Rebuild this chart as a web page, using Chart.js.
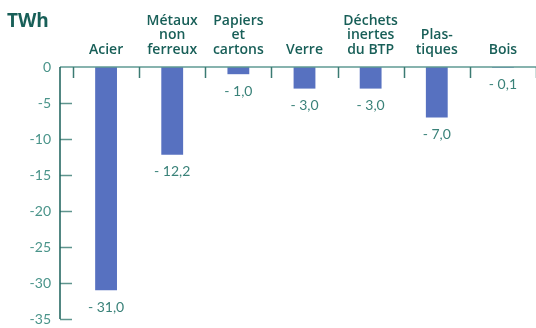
<!DOCTYPE html>
<html>
<head>
<meta charset="utf-8">
<script src="https://cdn.jsdelivr.net/npm/chart.js@4.4.1/dist/chart.umd.min.js"></script>
<style>
  html, body { margin: 0; padding: 0; background: #fff; }
  #wrap { width: 536px; height: 328px; }
</style>
</head>
<body>
<div id="wrap"><canvas id="barChart"></canvas></div>
<script>
const categories = [
    ['Acier'],
    ['Métaux', 'non', 'ferreux'],
    ['Papiers', 'et', 'cartons'],
    ['Verre'],
    ['Déchets', 'inertes', 'du BTP'],
    ['Plas-', 'tiques'],
    ['Bois']
];
const values = [-31.0, -12.2, -1.0, -3.0, -3.0, -7.0, -0.1];
const yMin = -35;
const yMax = 0;
const yStep = 5;
const unit = 'TWh';

const barColor = '#5771c0';
const darkTeal = '#185f58';
const midTeal = '#3a8279';
const tickTeal = '#4a948a';

// "- 31,0" style labels
function fmt(v) {
    return '- ' + Math.abs(v).toFixed(1).replace('.', ',');
}

// axis lines, inside tick marks, unit and value labels
const decorations = {
    id: 'decorations',
    afterDatasetsDraw(chart) {
        const {ctx, chartArea, scales: {x, y}} = chart;
        const y0 = y.getPixelForValue(0);
        const axisX = chartArea.left - 13;
        ctx.save();

        // y tick marks
        ctx.lineWidth = 1.5;
        ctx.strokeStyle = '#5f958e';
        for (let v = yMin; v < yMax; v += yStep) {
            const py = Math.round(y.getPixelForValue(v)) + 0.5;
            ctx.beginPath();
            ctx.moveTo(axisX, py);
            ctx.lineTo(axisX + 12, py);
            ctx.stroke();
        }

        // x axis at zero
        ctx.strokeStyle = '#5f9a93';
        ctx.beginPath();
        ctx.moveTo(axisX, y0);
        ctx.lineTo(chart.width, y0);
        ctx.stroke();

        // category boundary ticks
        ctx.strokeStyle = '#3b7a72';
        const cw = x.width / categories.length;
        for (let i = 0; i <= categories.length; i++) {
            const px = Math.round(x.left + i * cw) + 0.5;
            ctx.beginPath();
            ctx.moveTo(px, y0);
            ctx.lineTo(px, y0 + 11);
            ctx.stroke();
        }

        // y axis line
        ctx.strokeStyle = darkTeal;
        ctx.beginPath();
        ctx.moveTo(axisX, y0);
        ctx.lineTo(axisX, y.getPixelForValue(yMin));
        ctx.stroke();

        // unit
        ctx.fillStyle = darkTeal;
        ctx.font = 'bold 19px "Open Sans"';
        ctx.textAlign = 'left';
        ctx.textBaseline = 'alphabetic';
        ctx.fillText(unit, 7, 27);

        // value labels under the bars
        ctx.fillStyle = midTeal;
        ctx.font = '14px Lato';
        ctx.textAlign = 'center';
        ctx.textBaseline = 'middle';
        values.forEach((v, i) => {
            ctx.fillText(fmt(v), x.getPixelForValue(i), y.getPixelForValue(v) + 17);
        });
        ctx.restore();
    }
};

const ctxBar = document.getElementById('barChart').getContext('2d');
const barChart = new Chart(ctxBar, {
    type: 'bar',
    data: {
        labels: categories,
        datasets: [{
            data: values,
            backgroundColor: barColor,
            barPercentage: 0.33,
            categoryPercentage: 1
        }]
    },
    options: {
        responsive: true,
        maintainAspectRatio: false,
        animation: false,
        layout: {
            padding: {left: 0, right: 0, top: 0, bottom: 9}
        },
        plugins: {
            legend: { display: false },
            tooltip: { enabled: false }
        },
        scales: {
            x: {
                position: 'top',
                offset: true,
                grid: { display: false, drawTicks: false },
                border: { display: false },
                ticks: {
                    color: darkTeal,
                    font: { family: 'Open Sans', size: 14, weight: '600', lineHeight: '14.5px' },
                    padding: 10,
                    maxRotation: 0,
                    autoSkip: false
                },
                afterFit(scale) {
                    scale.height = 67;
                }
            },
            y: {
                min: yMin,
                max: yMax,
                grid: { display: false, drawTicks: false },
                border: { display: false },
                ticks: {
                    stepSize: yStep,
                    color: tickTeal,
                    font: { family: 'Lato', size: 14 },
                    padding: 22
                },
                afterFit(scale) {
                    scale.width = 73;
                    scale.paddingTop = 0;
                    scale.paddingBottom = 0;
                }
            }
        }
    },
    plugins: [decorations]
});
</script>
</body>
</html>
